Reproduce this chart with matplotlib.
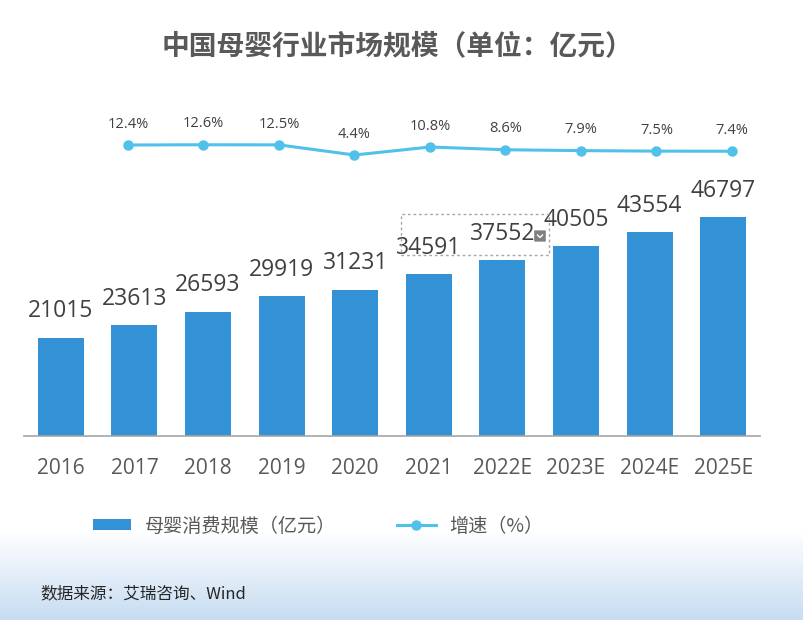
import numpy as np
import matplotlib
matplotlib.use('Agg')
import matplotlib.pyplot as plt
from matplotlib.patches import Patch, Rectangle, FancyBboxPatch
from matplotlib.lines import Line2D

plt.rcParams['font.family'] = ['Noto Sans CJK SC', 'DejaVu Sans']

years = ['2016', '2017', '2018', '2019', '2020', '2021', '2022E', '2023E', '2024E', '2025E']
market_size = [21015, 23613, 26593, 29919, 31231, 34591, 37552, 40505, 43554, 46797]
growth = [12.4, 12.6, 12.5, 4.4, 10.8, 8.6, 7.9, 7.5, 7.4]
growth_years = years[1:]

BAR_COLOR = '#3391d5'
LINE_COLOR = '#4fc1ea'
NUM_FONT = ['Open Sans', 'DejaVu Sans']
W, H = 804, 620

fig = plt.figure(figsize=(W / 100, H / 100), dpi=100)

# background gradient at the bottom
bg = fig.add_axes([0, 0, 1, 1], zorder=-10)
grad = np.ones((H, 1, 3))
top_c = np.array([1.0, 1.0, 1.0])
bot_c = np.array([0xc6, 0xdc, 0xf1]) / 255
for i in range(H):
    t = (i - 530) / (H - 530)
    t = min(max(t, 0), 1)
    grad[i, 0] = top_c * (1 - t) + bot_c * t
bg.imshow(grad, aspect='auto', extent=[0, 1, 1, 0])
bg.set_xlim(0, 1)
bg.set_ylim(1, 0)
bg.axis('off')

rect = [24 / W, 1 - 436 / H, 736 / W, 326 / H]
ax = fig.add_axes(rect)
ax.set_facecolor('none')
x = np.arange(len(years))
bars = ax.bar(x, market_size, width=0.625, color=BAR_COLOR, zorder=2)
ax.set_xlim(-0.5, 9.5)
ax.set_ylim(0, 69660)
for s in ['top', 'left', 'right']:
    ax.spines[s].set_visible(False)
ax.spines['bottom'].set_color('#a6a6a6')
ax.spines['bottom'].set_linewidth(1.2)
ax.set_yticks([])
ax.set_xticks(x)
ax.set_xticklabels(years, fontsize=15, color='#595959', family=NUM_FONT)
ax.tick_params(axis='x', length=0, pad=16)

for xi, v in zip(x, market_size):
    ax.annotate(str(v), (xi, v), xytext=(0, 19), textcoords='offset points',
                ha='center', va='center', fontsize=16.5, color='#404040', family=NUM_FONT)

# growth line sits on its own slightly wider horizontal scale
ax2 = fig.add_axes(rect)
ax2.set_facecolor('none')
ax2.set_xlim(-0.377, 9.371)
ax2.set_ylim(-220.4, 40.4)
ax2.axis('off')
gx = x[1:]
ax2.plot(gx, growth, color=LINE_COLOR, lw=2.2, marker='o', markersize=6.5, zorder=3)
for xi, g in zip(gx, growth):
    ax2.annotate(f'{g}%', (xi, g), xytext=(0, 15), textcoords='offset points',
                 ha='center', va='center', fontsize=10.5, color='#404040', family=NUM_FONT)

# dashed selection box around two labels
fig.patches.append(Rectangle((401 / W, 1 - 255 / H), 148 / W, 41 / H,
                             transform=fig.transFigure, fill=False,
                             edgecolor='#a8a8a8', lw=1, ls=(0, (2, 2)), zorder=5))
fig.patches.append(FancyBboxPatch((535 / W, 1 - 241 / H), 10 / W, 10 / H,
                                  boxstyle='round,pad=0.001', transform=fig.transFigure,
                                  facecolor='#7f7f7f', edgecolor='none', zorder=6))
fig.lines.append(Line2D([537.5 / W, 540 / W, 542.5 / W],
                        [1 - 235 / H, 1 - 237.5 / H, 1 - 235 / H],
                        transform=fig.transFigure, color='white', lw=1, zorder=7))

fig.text(0.494, 1 - 46 / H, '中国母婴行业市场规模（单位：亿元）', ha='center', va='center',
         fontsize=20, fontweight='bold', color='#595959')

handles = [Patch(facecolor=BAR_COLOR, edgecolor='none'),
           Line2D([0], [0], color=LINE_COLOR, lw=2.2, marker='o', markersize=6.5)]
fig.legend(handles, ['母婴消费规模（亿元）', '增速（%）'], loc='center',
           bbox_to_anchor=(318 / W, 1 - 526 / H), ncol=2, frameon=False,
           fontsize=13.8, labelcolor='#595959', handlelength=2.0, handleheight=0.55,
           handletextpad=0.7, columnspacing=3.2)

fig.text(40 / W, 1 - 594 / H, '数据来源：艾瑞咨询、Wind', ha='left', va='center',
         fontsize=12, color='#262626')

fig.savefig('out.png', dpi=100)
